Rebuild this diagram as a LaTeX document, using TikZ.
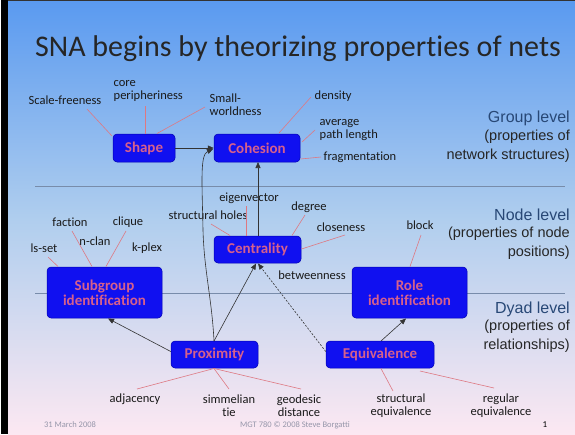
\documentclass[tikz,border=0pt]{standalone}
\usepackage{fontspec}
\setmainfont[Ligatures={NoCommon,NoContextual}]{Carlito}
\newfontfamily\arialf{Liberation Sans}
\usetikzlibrary{arrows.meta}
\definecolor{bgtop}{RGB}{90,154,240}
\definecolor{bgmid}{RGB}{176,206,238}
\definecolor{bgbot}{RGB}{252,232,242}
\definecolor{boxblue}{RGB}{16,16,240}
\definecolor{boxtext}{RGB}{214,96,140}
\definecolor{spoke}{RGB}{222,120,130}
\definecolor{levelc}{RGB}{40,72,118}
\definecolor{sepline}{RGB}{120,140,170}
\definecolor{footc}{RGB}{150,150,170}
\tikzset{
  concept/.style={draw=blue!70!black, line width=0.5pt, fill=boxblue, rounded corners=4pt,
    text=boxtext, font=\fontsize{15}{16}\selectfont\bfseries, align=center, inner sep=0pt},
  lbl/.style={font=\fontsize{12.5}{13}\selectfont, text=black!90, align=center, inner sep=0.5pt},
  spk/.style={draw=spoke, line width=0.6pt},
  arr/.style={draw=black!80, line width=0.6pt, -{Triangle[length=6pt,width=5pt]}},
  lvl/.style={font=\arialf\fontsize{16}{17}\selectfont, text=levelc, anchor=east, inner sep=0pt},
  lvlsub/.style={font=\arialf\fontsize{14.5}{18.5}\selectfont, text=black!85, anchor=north east, align=right, inner sep=0pt},
  foot/.style={font=\fontsize{8.5}{9}\selectfont, text=footc, inner sep=0pt},
}
\begin{document}
\begin{tikzpicture}[x=1pt,y=-1pt]
\useasboundingbox (0,0) rectangle (575,434);
\fill[white] (0,0) rectangle (575,434);
\shade[top color=bgtop, bottom color=bgmid] (8,1) rectangle (575,220);
\shade[top color=bgmid, bottom color=bgbot] (8,219.5) rectangle (575,434);
\fill[black] (1,0) rectangle (8,434);
\fill[black!80] (8,0) rectangle (575,1);

% title
\node[font=\fontsize{30}{32}\selectfont, text=black!85] (title) at (298,49) {SNA begins by theorizing propert\kern0pt ies of nets};

% separators
\draw[sepline, line width=0.6pt] (35,186) -- (565,186);
\draw[sepline, line width=0.6pt] (35,293) -- (565,293);

% level labels
\node[lvl] (grp) at (570,118) {Group level};
\node[lvlsub] (grps) at (570,130) {(properties of\\network structures)};
\node[lvl] (nod) at (570,215) {Node level};
\node[lvlsub] (nods) at (570,227) {(properties of node\\positions)};
\node[lvl] (dyd) at (570,309) {Dyad level};
\node[lvlsub] (dyds) at (570,320) {(properties of\\relationships)};

% concept boxes
\node[concept, minimum width=62pt, minimum height=28pt] (shape) at (144,148) {Shape};
\node[concept, minimum width=86pt, minimum height=28pt] (coh) at (257,148) {Cohesion};
\node[concept, minimum width=87pt, minimum height=27pt] (cen) at (257.5,249.5) {Centrality};
\node[concept, minimum width=115pt, minimum height=51pt] (sub) at (104.5,292.5) {Subgroup\\[-1pt]identificat\kern0pt ion};
\node[concept, minimum width=115pt, minimum height=51pt] (role) at (409.5,292.5) {Role\\[-1pt]identificat\kern0pt ion};
\node[concept, minimum width=87pt, minimum height=27pt] (prox) at (214.5,354.5) {Proximity};
\node[concept, minimum width=108pt, minimum height=27pt] (equ) at (380,354.5) {Equivalence};

% labels
\node[lbl] (sf) at (65,100) {Scale-freeness};
\node[lbl, align=left, anchor=west] (cp) at (113,91) {core\\peripheriness};
\node[lbl, align=left, anchor=west] (sw) at (209,105) {Small-\\worldness};
\node[lbl, anchor=west] (dens) at (314,96) {density};
\node[lbl, align=left, anchor=west] (apl) at (319,130) {average\\path length};
\node[lbl, anchor=west] (frag) at (323,157) {fragmentat\kern0pt ion};
\node[lbl] (eig) at (249,198) {eigenvector};
\node[lbl] (sh) at (208,215) {structural holes};
\node[lbl] (deg) at (309,207) {degree};
\node[lbl] (clo) at (341,227) {closeness};
\node[lbl] (bet) at (312,275) {betweenness};
\node[lbl] (blk) at (420,225) {block};
\node[lbl] (fac) at (70,222) {faction};
\node[lbl] (cli) at (128,222) {clique};
\node[lbl] (ncl) at (95,241) {n-clan};
\node[lbl] (kpl) at (147,248) {k-plex};
\node[lbl] (lss) at (44,248) {ls-set};
\node[lbl] (adj) at (135,399) {adjacency};
\node[lbl] (sim) at (229,405.5) {simmelian\\tie};
\node[lbl] (geo) at (299,405.5) {geodesic\\distance};
\node[lbl] (seq) at (401,405.5) {structural\\equivalence};
\node[lbl] (req) at (501,405.5) {regular\\equivalence};

% footer
\node[foot] (date) at (70,425) {31 March 2008};
\node[foot] (copy) at (295,425) {MGT 780 \textcopyright{} 2008 Steve Borgatti};
\node[font=\fontsize{9}{10}\selectfont, inner sep=0pt] (pg) at (545,425) {1};

% spokes
\coordinate (shTL) at (112,136);
\draw[spk] (sf.south east) ++(-15,4) -- (shTL);
\draw[spk] (145,106) -- (145,133.5);
\draw[spk] (205,107) -- (157,133.5);
\draw[spk] (dens.west) ++(-3,1) -- (279,133);
\draw[spk] (apl.west) ++(-4,0) -- (302,142);
\draw[spk] (frag.west) ++(-2,0) -- (300.5,159);
\draw[spk] (246,206) -- (246,235.5);
\draw[spk] (211,224) -- (230,235.5);
\draw[spk] (305,215) -- (292,235.5);
\draw[spk] (345,235) -- (301.5,249);
\draw[spk] (421,235) -- (410,266.5);
\draw[spk] (72,231) -- (92,266.5);
\draw[spk] (126,231) -- (106,266.5);
\draw[spk] (48,257) -- (58,266.5);
\draw[spk] (214,368.5) -- (137,389);
\draw[spk] (214,368.5) -- (229,389);
\draw[spk] (214,368.5) -- (301,389);
\draw[spk] (381,368.5) -- (393,391);
\draw[spk] (420,371) -- (494,388);

% arrows
\draw[arr] (shape.east) -- (coh.west |- shape.east);
\draw[arr] (cen.north) ++(0.5,0) -- (258,162);
\draw[arr] (214,341) .. controls (212,300) and (204,270) .. (203,230)
  .. controls (202,180) and (200,155) .. (213,149);
\draw[arr] (214,341) -- (256,263.5);
\draw[arr] (prox.west) ++(0,-3) -- (108,318.5);
\draw[arr, dashed, dash pattern=on 2pt off 1.5pt] (equ.west) ++(0,-3) -- (258,263.5);
\draw[arr] (381,341) -- (406,318.5);
\end{tikzpicture}
\end{document}
